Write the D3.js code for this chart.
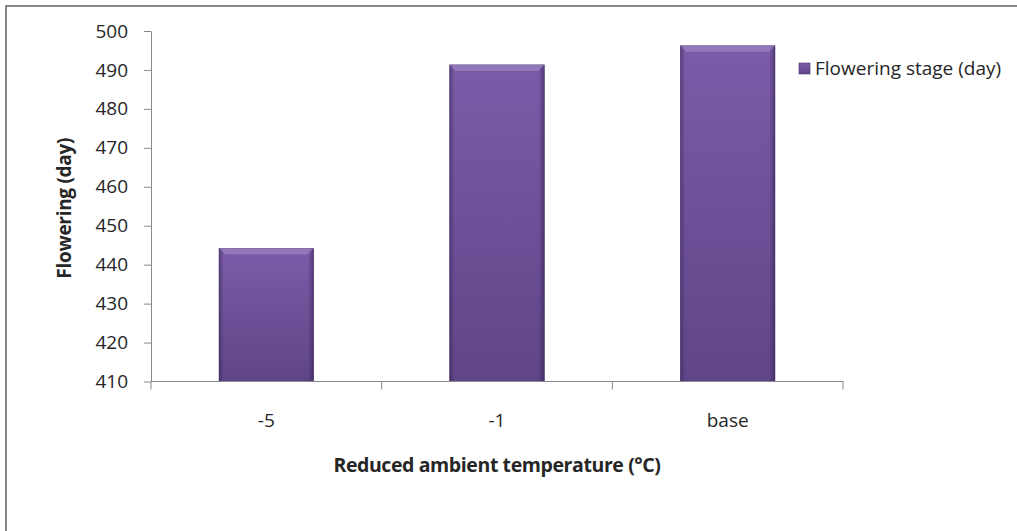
<!DOCTYPE html>
<html>
<head>
<meta charset="utf-8">
<script src="https://cdn.jsdelivr.net/npm/d3@7"></script>
<style>
  html, body { margin: 0; background: #fff; overflow: hidden; }
  svg { display: block; }
  text { font-family: "Open Sans", Lato, sans-serif; fill: #262626; }
</style>
</head>
<body>
<div id="chart"></div>
<script>
// chart data
const categories = ['-5', '-1', 'base'];
const flowering = [444.2, 491.3, 496.2];
const yTicks = [410, 420, 430, 440, 450, 460, 470, 480, 490, 500];
const seriesName = 'Flowering stage (day)';

const width = 1017, height = 531;
const plot = {left: 151, right: 843, top: 31, bottom: 381.5};

const svg = d3.select('#chart').append('svg')
    .attr('width', width)
    .attr('height', height);

// outer frame: only its top and left edges fall inside the picture
svg.append('path')
    .attr('d', `M6,${height}V6H${width}`)
    .attr('fill', 'none')
    .attr('stroke', '#878787')
    .attr('stroke-width', 2);

// bar gradients
const defs = svg.append('defs');
const vGrad = defs.append('linearGradient')
    .attr('id', 'barV').attr('x1', 0).attr('y1', 0).attr('x2', 0).attr('y2', 1);
vGrad.append('stop').attr('offset', '0%').attr('stop-color', '#7b5ba8');
vGrad.append('stop').attr('offset', '100%').attr('stop-color', '#5f4587');

const hGrad = defs.append('linearGradient')
    .attr('id', 'barH').attr('x1', 0).attr('y1', 0).attr('x2', 1).attr('y2', 0);
hGrad.append('stop').attr('offset', '0%').attr('stop-color', '#2e1a4a').attr('stop-opacity', 0.45);
hGrad.append('stop').attr('offset', '5%').attr('stop-color', '#2e1a4a').attr('stop-opacity', 0);
hGrad.append('stop').attr('offset', '94%').attr('stop-color', '#2e1a4a').attr('stop-opacity', 0);
hGrad.append('stop').attr('offset', '100%').attr('stop-color', '#2e1a4a').attr('stop-opacity', 0.5);

const x = d3.scaleBand()
    .domain(categories)
    .range([plot.left, plot.right])
    .paddingInner(0.59)
    .paddingOuter(0.295);

const y = d3.scaleLinear()
    .domain([410, 500])
    .range([plot.bottom, plot.top]);

// bars
const bars = svg.append('g').selectAll('g')
    .data(categories.map((c, i) => ({cat: c, val: flowering[i]})))
  .join('g');

bars.append('rect')
    .attr('x', d => x(d.cat))
    .attr('y', d => y(d.val))
    .attr('width', x.bandwidth())
    .attr('height', d => y(410) - y(d.val))
    .attr('fill', 'url(#barV)')
    .attr('stroke', '#4b3470')
    .attr('stroke-width', 0.6);

bars.append('rect')
    .attr('x', d => x(d.cat))
    .attr('y', d => y(d.val))
    .attr('width', x.bandwidth())
    .attr('height', d => y(410) - y(d.val))
    .attr('fill', 'url(#barH)');

// bevel on top edge
bars.append('path')
    .attr('d', d => {
      const x0 = x(d.cat), x1 = x0 + x.bandwidth(), t = y(d.val);
      return `M${x0},${t}L${x1},${t}L${x1 - 6},${t + 6}L${x0 + 6},${t + 6}Z`;
    })
    .attr('fill', '#a590c8')
    .attr('opacity', 0.55);

// y axis
const yAxis = svg.append('g')
    .attr('transform', `translate(${plot.left},0)`)
    .call(d3.axisLeft(y).tickValues(yTicks).tickSize(7).tickPadding(16).tickSizeOuter(0));
yAxis.select('.domain').attr('stroke', '#888');
yAxis.selectAll('.tick line').attr('stroke', '#888');
yAxis.selectAll('.tick text')
    .attr('font-size', 19)
    .attr('fill', '#262626')
    .style('font-family', '"Open Sans", sans-serif');

// x axis with ticks at category boundaries
const xAxisG = svg.append('g');
xAxisG.append('line')
    .attr('x1', plot.left).attr('x2', plot.right)
    .attr('y1', plot.bottom).attr('y2', plot.bottom)
    .attr('stroke', '#888');
const bounds = [plot.left].concat(categories.map((c, i) => plot.left + (i + 1) * (plot.right - plot.left) / categories.length));
xAxisG.selectAll('.bt')
    .data(bounds)
  .join('line')
    .attr('x1', d => d).attr('x2', d => d)
    .attr('y1', plot.bottom).attr('y2', plot.bottom + 8)
    .attr('stroke', '#888');
xAxisG.selectAll('text')
    .data(categories)
  .join('text')
    .attr('x', d => x(d) + x.bandwidth() / 2)
    .attr('y', 420)
    .attr('dy', '0.35em')
    .attr('text-anchor', 'middle')
    .attr('font-size', 19)
    .text(d => d);

// axis titles
svg.append('text')
    .attr('transform', `translate(64,${(plot.top + plot.bottom) / 2 + 2}) rotate(-90)`)
    .attr('text-anchor', 'middle')
    .attr('dy', '0.35em')
    .attr('font-size', 19)
    .attr('font-weight', 'bold')
    .attr('letter-spacing', -0.3)
    .text('Flowering (day)');

svg.append('text')
    .attr('x', (plot.left + plot.right) / 2)
    .attr('y', 465)
    .attr('dy', '0.35em')
    .attr('text-anchor', 'middle')
    .attr('font-size', 19.5)
    .attr('font-weight', 'bold')
    .attr('letter-spacing', -0.4)
    .text('Reduced ambient temperature (°C)');

// legend
const legend = svg.append('g').attr('transform', 'translate(799,63)');
legend.append('rect')
    .attr('width', 11).attr('height', 11)
    .attr('fill', 'url(#barV)')
    .attr('stroke', '#4b3470')
    .attr('stroke-width', 0.6);
legend.append('text')
    .attr('x', 16)
    .attr('y', 5.5)
    .attr('dy', '0.35em')
    .attr('font-size', 19)
    .text(seriesName);
</script>
</body>
</html>
